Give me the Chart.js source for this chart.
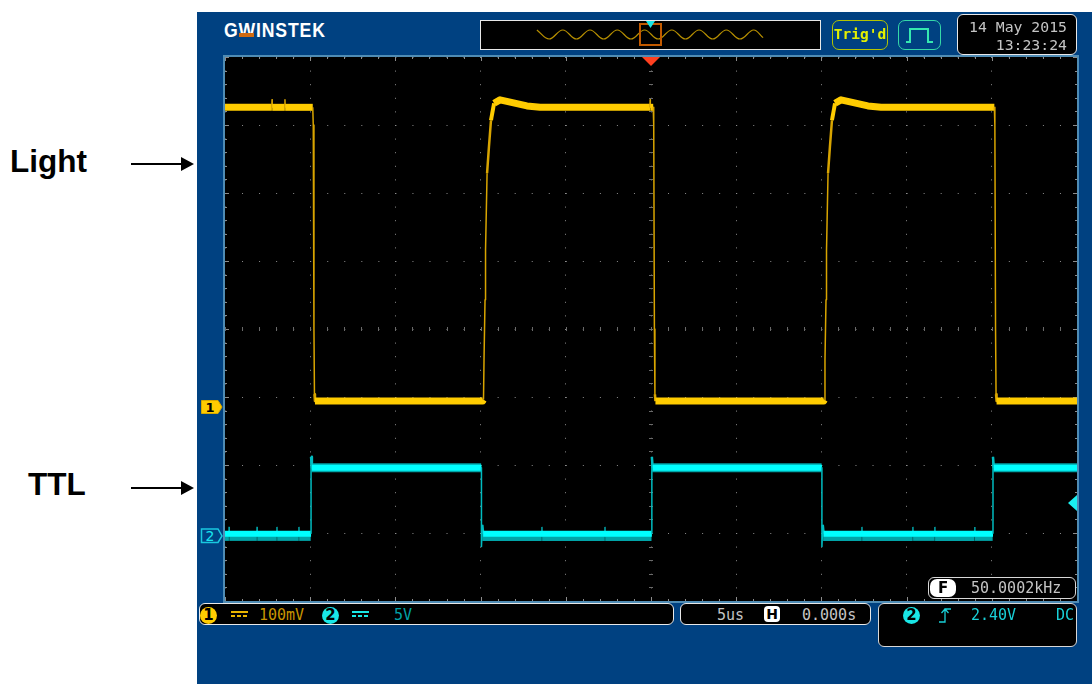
<!DOCTYPE html>
<html>
<head>
<meta charset="utf-8">
<title>Light and TTL scope capture</title>
<script src="https://cdn.jsdelivr.net/npm/chart.js@4/dist/chart.umd.min.js"></script>
<style>
  html, body { margin: 0; padding: 0; background: #fff; }
  body { width: 1092px; height: 684px; position: relative; overflow: hidden; }
  div, canvas, svg { position: absolute; box-sizing: border-box; }
  .scope { left: 197px; top: 12px; width: 895px; height: 672px; background: #004181; }
  .box { background: #000; border: 1.5px solid #e8e8e8; border-radius: 6px; }
  .mono { font-family: "DejaVu Sans Mono", monospace; font-size: 15px; line-height: 18px; color: #c4c4c4; white-space: pre; }
  .side { font-family: "Liberation Sans", Arial, sans-serif; font-weight: bold; font-size: 31.5px; line-height: 36px; color: #000; }
  .dot { width: 17px; height: 17px; border-radius: 50%; color: #000; font: bold 15px/17px "DejaVu Sans", sans-serif; text-align: center; }
  .dc { width: 17px; height: 7px; border-top: 2px solid; }
  .dc::after { content: ""; position: absolute; left: 0; right: 0; top: 2px; height: 2px;
    background: repeating-linear-gradient(90deg, currentColor 0 4px, transparent 4px 6px); }
</style>
</head>
<body>

<div class="side" style="left:10px;top:143px">Light</div>
<div class="side" style="left:28px;top:466px">TTL</div>
<svg style="left:125px;top:150px" width="75" height="350">
  <path d="M6 14H62M6 338H62" stroke="#000" stroke-width="2"/>
  <path d="M56 7L69 14L56 21ZM56 331L69 338L56 345Z" fill="#000"/>
</svg>

<div class="scope"></div>

<!-- top bar -->
<div style="left:224px;top:17px;width:121px;font:bold 21px/26px 'Liberation Sans',sans-serif;letter-spacing:1px;color:#fff;transform:scaleX(.84);transform-origin:0 0;white-space:nowrap">GWINSTEK</div>
<div style="left:239px;top:33px;width:15px;height:5px;background:#004181"></div>
<div style="left:239px;top:33px;width:15px;height:4px;background:#d06a10"></div>

<div style="left:480px;top:20px;width:341px;height:30px;background:#000;border:1.5px solid #e8e8e8"></div>
<canvas id="overviewChart" width="338" height="27" style="left:481px;top:21px"></canvas>
<div style="left:639px;top:23px;width:23px;height:23px;border:2px solid #c25a00"></div>
<div style="left:646px;top:21px;width:9px;height:7px;background:#19e6e6;clip-path:polygon(0 0,100% 0,50% 100%)"></div>

<div class="mono" style="left:832px;top:20px;width:56px;height:30px;border:1.5px solid #b4c400;border-radius:7px;background:#004181;color:#e4f000;font-weight:bold;font-size:14.5px;line-height:26px;text-align:center">Trig'd</div>
<div style="left:898px;top:20px;width:43px;height:30px;border:1.5px solid #35d8a8;border-radius:7px"></div>
<svg style="left:898px;top:20px" width="43" height="30">
  <path d="M8 22H12V9H30V22H35" fill="none" stroke="#35e8b0" stroke-width="2"/>
</svg>

<div class="box" style="left:957px;top:14px;width:120px;height:41px"></div>
<div class="mono" style="left:957px;top:18px;width:110px;text-align:right;font-size:14.8px">14 May 2015</div>
<div class="mono" style="left:957px;top:36px;width:110px;text-align:right;font-size:14.8px">13:23:24</div>

<!-- graticule panel -->
<div style="left:223px;top:55px;width:856px;height:548px;background:#000;border:2px solid #4f8cb4"></div>
<canvas id="scopeChart" width="852" height="544" style="left:225px;top:57px"></canvas>
<div style="left:642px;top:57px;width:18px;height:9px;background:#ff4020;clip-path:polygon(0 0,100% 0,50% 100%)"></div>
<div style="left:1068px;top:495px;width:9px;height:16px;background:#19f0f0;clip-path:polygon(0 50%,100% 0,100% 100%)"></div>

<svg style="left:199px;top:398px" width="26" height="148">
  <path d="M2.5 2.5H19L23 9L19 15.5H2.5Z" fill="#ffcc00" stroke="#d8a800"/>
  <text x="11" y="14" text-anchor="middle" font-family="DejaVu Sans" font-weight="bold" font-size="13" fill="#000">1</text>
  <path d="M2.5 131H19L23 138L19 144.500H2.5Z" fill="none" stroke="#19c8e0" stroke-width="1.500"/>
  <text x="11" y="143" text-anchor="middle" font-family="DejaVu Sans" font-size="14" fill="#19e6f0">2</text>
</svg>

<!-- frequency readout -->
<div class="box" style="left:928px;top:577px;width:148px;height:22px;border-color:#d8d8d8"></div>
<div style="left:930px;top:579px;width:26px;height:18px;border-radius:7px;background:#fff;color:#000;font:bold 15px/18px 'DejaVu Sans',sans-serif;text-align:center">F</div>
<div class="mono" style="left:971px;top:579px">50.0002kHz</div>

<!-- bottom bar -->
<div class="box" style="left:199px;top:603px;width:475px;height:22px"></div>
<div class="dot" style="left:200px;top:607px;background:#ffcc00">1</div>
<div class="dc" style="left:231px;top:611px;color:#e8b400"></div>
<div class="mono" style="left:259px;top:606px;color:#c89400">100mV</div>
<div class="dot" style="left:322px;top:607px;background:#19e6e6">2</div>
<div class="dc" style="left:352px;top:611px;color:#19e6e6"></div>
<div class="mono" style="left:394px;top:606px;color:#00a0a8">5V</div>

<div class="box" style="left:680px;top:603px;width:191px;height:22px"></div>
<div class="mono" style="left:717px;top:606px">5us</div>
<div style="left:764px;top:606px;width:16px;height:16px;border-radius:4px;background:#fff;color:#000;font:bold 14px/16px 'DejaVu Sans',sans-serif;text-align:center">H</div>
<div class="mono" style="left:802px;top:606px">0.000s</div>

<div class="box" style="left:878px;top:603px;width:199px;height:44px;border-color:#d8d8d8"></div>
<div class="dot" style="left:903px;top:607px;background:#19e6e6">2</div>
<svg style="left:938px;top:606px" width="16" height="18">
  <path d="M1 16H7V3H13M3.500 7L7 3L10.500 7" fill="none" stroke="#19d0d8" stroke-width="1.300"/>
</svg>
<div class="mono" style="left:971px;top:606px;color:#19d0d8">2.40V</div>
<div class="mono" style="left:1056px;top:606px;color:#19d0d8">DC</div>

<script>
// time in us, level in divisions from screen centre (100mV/div and 5V/div)
const lightTime = [
  -25, -22.25, -22.24, -22.23, -21.49, -21.48, -21.47, -19.85, -19.82, -19.78, -19.75, -19.72,
  -9.88, -9.83, -9.80, -9.74, -9.71, -9.62, -9.51, -9.39, -9.21, -8.86, -8.33, -7.28, -6.51,
  -0.06, -0.05, -0.04, 0.13, 0.16, 0.20, 0.23, 0.26,
  10.13, 10.18, 10.21, 10.27, 10.30, 10.39, 10.50, 10.62, 10.80, 11.15, 11.68, 12.73, 13.50,
  20.15, 20.18, 20.22, 20.25, 20.28, 25
];
const lightLevel = [
  3.26, 3.26, 3.37, 3.26, 3.26, 3.37, 3.26, 3.26, 3.00, 0, -0.96, -1.06,
  -1.06, -1.04, -0.46, 0.43, 1.16, 2.29, 2.68, 3.07, 3.32, 3.37, 3.34, 3.28, 3.26,
  3.26, 3.37, 3.26, 3.26, 3.00, 0, -0.96, -1.06,
  -1.06, -1.04, -0.46, 0.43, 1.16, 2.29, 2.68, 3.07, 3.32, 3.37, 3.34, 3.28, 3.26,
  3.26, 3.00, 0, -0.96, -1.06, -1.06
];

const ttlTime = [
  -25, -19.95, -19.95, -19.90, -9.95, -9.95, -9.90, -9.85,
  0.05, 0.05, 0.10, 10.03, 10.03, 10.08, 10.13,
  20.07, 20.07, 20.12, 25
];
const ttlLevel = [
  -3.01, -3.01, -1.88, -2.04, -2.04, -3.20, -2.88, -3.01,
  -3.01, -1.88, -2.04, -2.04, -3.20, -2.88, -3.01,
  -3.01, -1.88, -2.04, -2.04
];

// dimmer noise band round the TTL trace, null breaks it at the edges
const ttlNoiseTime = [
  -25, -24.77, -24.76, -24.75, -23.13, -23.12, -23.11, -21.96, -21.95, -21.94, -20.67, -20.66, -20.65, -19.97, -19.96,
  -19.93, -9.97, -9.96,
  -9.90, -6.41, -6.40, -6.39, -2.71, -2.70, -2.69, 0.03, 0.04,
  0.07, 10.01, 10.02,
  10.10, 12.37, 12.38, 12.39, 15.36, 15.37, 15.38, 16.65, 16.66, 16.67, 18.99, 19.00, 19.01, 20.05, 20.06,
  20.09, 25
];
const ttlNoiseLevel = [
  -3.05, -3.05, -2.91, -3.05, -3.05, -2.91, -3.05, -3.05, -2.91, -3.05, -3.05, -2.91, -3.05, -3.05, null,
  -2.04, -2.04, null,
  -3.05, -3.05, -2.91, -3.05, -3.05, -2.91, -3.05, -3.05, null,
  -2.04, -2.04, null,
  -3.05, -3.05, -2.91, -3.05, -3.05, -2.91, -3.05, -3.05, -2.91, -3.05, -3.05, -2.91, -3.05, -3.05, null,
  -2.04, -2.04
];

// overview strip at the top: peaks and troughs of the light trace
const overviewTime = [-83, -74, -64, -54, -44, -34, -24, -14, -4, 6, 16, 26, 36, 46, 56, 66, 76, 83];
const overviewLevel = [1, -1, 1, -1, 1, -1, 1, -1, 1, -1, 1, -1, 1, -1, 1, -1, 1, -0.7];

const timePerDiv = 5;
const timeRange = [-25, 25];
const levelRange = [-4, 4];

function points(xs, ys) {
  return xs.map((x, i) => ({ x: x, y: ys[i] }));
}

// noise makes the flat parts of a trace thick, the fast edges stay thin and dim
function slopeOf(ctx) {
  const dx = Math.abs(ctx.p1.parsed.x - ctx.p0.parsed.x);
  const dy = Math.abs(ctx.p1.parsed.y - ctx.p0.parsed.y);
  return dx === 0 ? Infinity : dy / dx;
}

function traceSegment(flatWidth, flatColor, edgeColor) {
  return {
    borderWidth: ctx => {
      const s = slopeOf(ctx);
      if (s > 6) return 1.5;
      if (s > 2) return 2.5;
      if (s > 0.5) return 4;
      return flatWidth;
    },
    borderColor: ctx => (slopeOf(ctx) > 2 ? edgeColor : flatColor)
  };
}

const graticuleTicks = {
  id: "graticuleTicks",
  beforeDatasetsDraw(chart) {
    const { ctx, chartArea, scales } = chart;
    const { left, right, top, bottom } = chartArea;
    const cx = scales.x.getPixelForValue(0);
    const cy = scales.y.getPixelForValue(0);
    ctx.save();
    ctx.lineWidth = 1;
    ctx.strokeStyle = "#8c8c8c";
    ctx.beginPath();
    for (let i = 0; i <= 50; i++) {
      const x = Math.round(scales.x.getPixelForValue(timeRange[0] + i * timePerDiv / 5)) + 0.5;
      const len = i % 5 === 0 ? 4 : 2;
      ctx.moveTo(x, top);
      ctx.lineTo(x, top + len);
      ctx.moveTo(x, bottom);
      ctx.lineTo(x, bottom - len);
    }
    for (let i = 0; i <= 40; i++) {
      const y = Math.round(scales.y.getPixelForValue(levelRange[0] + i / 5)) + 0.5;
      const len = i % 5 === 0 ? 4 : 2;
      ctx.moveTo(left, y);
      ctx.lineTo(left + len, y);
      ctx.moveTo(right, y);
      ctx.lineTo(right - len, y);
    }
    ctx.stroke();
    // centre cross is fainter than the edge ticks
    ctx.strokeStyle = "#6a6a6a";
    ctx.beginPath();
    for (let i = 0; i <= 50; i++) {
      const x = Math.round(scales.x.getPixelForValue(timeRange[0] + i * timePerDiv / 5)) + 0.5;
      ctx.moveTo(x, cy - 2);
      ctx.lineTo(x, cy + 2);
    }
    for (let i = 0; i <= 40; i++) {
      const y = Math.round(scales.y.getPixelForValue(levelRange[0] + i / 5)) + 0.5;
      ctx.moveTo(cx - 2, y);
      ctx.lineTo(cx + 2, y);
    }
    ctx.stroke();
    ctx.restore();
  }
};

new Chart(document.getElementById("scopeChart"), {
  type: "scatter",
  data: {
    datasets: [
      {
        label: "Light",
        data: points(lightTime, lightLevel),
        showLine: true,
        pointRadius: 0,
        borderColor: "#ffcc00",
        borderWidth: 7,
        borderJoinStyle: "round",
        segment: traceSegment(7, "#ffcc00", "#d8a400")
      },
      {
        label: "TTL",
        data: points(ttlTime, ttlLevel),
        showLine: true,
        pointRadius: 0,
        borderColor: "#00ffff",
        borderWidth: 6,
        borderJoinStyle: "round",
        segment: traceSegment(6, "#00ffff", "#00bcc0")
      },
      {
        label: "TTL noise",
        data: points(ttlNoiseTime, ttlNoiseLevel),
        showLine: true,
        spanGaps: false,
        pointRadius: 0,
        borderColor: "#00a4a8",
        borderWidth: 9,
        segment: traceSegment(9, "#00a4a8", "#00a4a8")
      }
    ]
  },
  options: {
    responsive: false,
    animation: false,
    layout: { padding: 0 },
    plugins: { legend: { display: false }, tooltip: { enabled: false } },
    events: [],
    scales: {
      x: {
        type: "linear",
        min: timeRange[0],
        max: timeRange[1],
        ticks: { display: false, stepSize: timePerDiv },
        grid: { color: "#8c8c8c", lineWidth: 1, drawTicks: false },
        border: { display: false, dash: [1, 12.6] }
      },
      y: {
        type: "linear",
        min: levelRange[0],
        max: levelRange[1],
        ticks: { display: false, stepSize: 1 },
        grid: { color: "#8c8c8c", lineWidth: 1, drawTicks: false },
        border: { display: false, dash: [1, 16.04] }
      }
    }
  },
  plugins: [graticuleTicks]
});

new Chart(document.getElementById("overviewChart"), {
  type: "scatter",
  data: {
    datasets: [{
      label: "Overview",
      data: points(overviewTime, overviewLevel),
      showLine: true,
      tension: 0.4,
      pointRadius: 0,
      borderColor: "#b89000",
      borderWidth: 1.2
    }]
  },
  options: {
    responsive: false,
    animation: false,
    layout: { padding: 0 },
    plugins: { legend: { display: false }, tooltip: { enabled: false } },
    events: [],
    scales: {
      x: { min: -124, max: 124, display: false },
      y: { min: -3, max: 3, display: false }
    }
  }
});
</script>
</body>
</html>
